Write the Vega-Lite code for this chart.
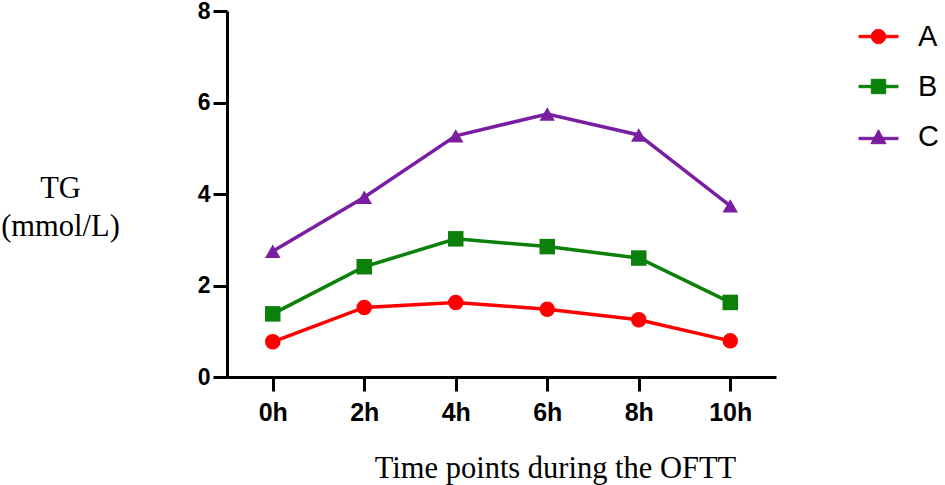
{
  "$schema": "https://vega.github.io/schema/vega-lite/v6.json",
  "autosize": "none",
  "width": 549,
  "height": 366,
  "padding": {"left": 227, "top": 11, "right": 169, "bottom": 108},
  "background": "white",
  "config": {
    "view": {"stroke": null},
    "axis": {
      "domainColor": "black", "domainWidth": 3, "tickColor": "black", "tickWidth": 3,
      "tickSize": 14, "labelColor": "black", "labelFont": "Liberation Sans",
      "labelFontWeight": "bold", "labelFontSize": 23, "grid": false,
      "titleFont": "Liberation Serif", "titleFontWeight": "normal", "titleFontSize": 30.5,
      "titleColor": "black"
    }
  },
  "data": {
    "values": [
      {"time": "0h", "group": "A", "tg": 0.77},
      {"time": "2h", "group": "A", "tg": 1.52},
      {"time": "4h", "group": "A", "tg": 1.63},
      {"time": "6h", "group": "A", "tg": 1.48},
      {"time": "8h", "group": "A", "tg": 1.25},
      {"time": "10h", "group": "A", "tg": 0.79},
      {"time": "0h", "group": "B", "tg": 1.38},
      {"time": "2h", "group": "B", "tg": 2.41},
      {"time": "4h", "group": "B", "tg": 3.02},
      {"time": "6h", "group": "B", "tg": 2.85},
      {"time": "8h", "group": "B", "tg": 2.6},
      {"time": "10h", "group": "B", "tg": 1.63},
      {"time": "0h", "group": "C", "tg": 2.75},
      {"time": "2h", "group": "C", "tg": 3.93},
      {"time": "4h", "group": "C", "tg": 5.27},
      {"time": "6h", "group": "C", "tg": 5.75},
      {"time": "8h", "group": "C", "tg": 5.29},
      {"time": "10h", "group": "C", "tg": 3.74}
    ]
  },
  "encoding": {
    "x": {
      "field": "time", "type": "nominal", "sort": null,
      "scale": {"type": "point", "padding": 0.5},
      "axis": {
        "labelAngle": 0, "labelPadding": 9, "labelFontSize": 25,
        "title": "Time points during the OFTT",
        "titleX": 328, "titleY": 100, "titleAlign": "center", "titleBaseline": "alphabetic"
      }
    },
    "y": {
      "field": "tg", "type": "quantitative",
      "scale": {"domain": [0, 8], "nice": false},
      "axis": {
        "values": [0, 2, 4, 6, 8], "labelPadding": 3,
        "title": ["TG", "(mmol/L)"], "titleAngle": 0,
        "titleX": -167, "titleY": 186, "titleAlign": "center",
        "titleBaseline": "alphabetic", "titleLineHeight": 38
      }
    }
  },
  "layer": [
    {
      "mark": {"type": "line", "strokeWidth": 3.5},
      "encoding": {
        "stroke": {
          "field": "group", "type": "nominal",
          "scale": {"domain": ["A", "B", "C"], "range": ["#ff0000", "#0b800b", "#7a1ea1"]},
          "legend": {
            "orient": "none", "legendX": 637, "legendY": 11, "title": null,
            "labelFont": "Liberation Sans", "labelFontSize": 29, "labelColor": "black",
            "symbolSize": 256, "labelOffset": 25, "rowPadding": 20,
            "symbolStrokeWidth": 1, "symbolOpacity": 1,
            "symbolType": {"expr": "datum.value === 'A' ? 'M-2.44,-0.15H2.44V0.15H-2.44Z M0.9,0A0.9,0.9,0,1,1,-0.9,0A0.9,0.9,0,1,1,0.9,0Z' : datum.value === 'B' ? 'M-2.44,-0.15H2.44V0.15H-2.44Z M-0.9,-0.9H0.9V0.9H-0.9Z' : 'M-2.44,0.1H2.44V0.4H-2.44Z M0,-0.85L0.94,0.9L-0.94,0.9Z'"},
            "symbolFillColor": {"expr": "scale('stroke', datum.value)"}
          }
        }
      }
    },
    {
      "mark": {"type": "point", "filled": true, "size": 240, "opacity": 1},
      "encoding": {
        "fill": {
          "field": "group", "type": "nominal", "legend": null,
          "scale": {"range": ["#ff0000", "#0b800b", "#7a1ea1"]}
        },
        "shape": {
          "field": "group", "type": "nominal", "legend": null,
          "scale": {"range": ["circle", "square", "triangle-up"]}
        }
      }
    }
  ]
}
